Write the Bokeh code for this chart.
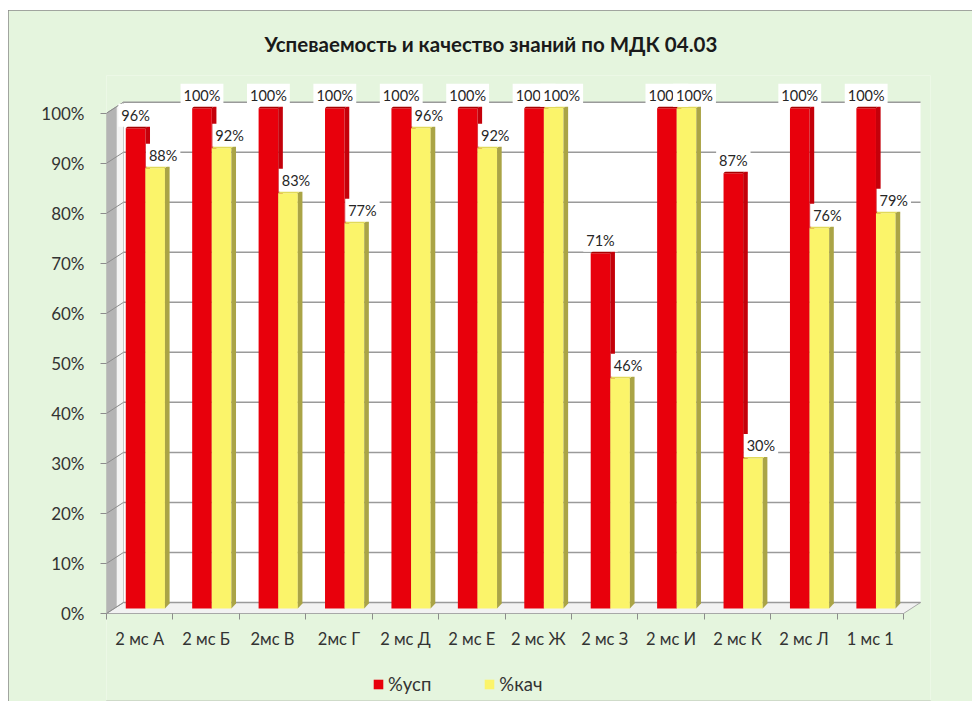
from bokeh.plotting import figure
from bokeh.models import (Range1d, FixedTicker, LinearAxis, Legend, LegendItem, Title)
from bokeh.core.properties import value
from bokeh.embed import file_html
from bokeh.resources import INLINE

# ---------------- data ----------------
categories = ["2 мс А", "2 мс Б", "2мс В", "2мс Г", "2 мс Д", "2 мс Е",
              "2 мс Ж", "2 мс З", "2 мс И", "2 мс К", "2 мс Л", "1 мс 1"]
usp = [96, 100, 100, 100, 100, 100, 100, 71, 100, 87, 100, 100]   # %усп
kach = [88, 92, 83, 77, 96, 92, 100, 46, 100, 30, 76, 79]          # %кач
y_ticks = [0, 10, 20, 30, 40, 50, 60, 70, 80, 90, 100]
series_names = ["%усп", "%кач"]
title_text = "Успеваемость и качество знаний по МДК 04.03"

# ---------------- style / geometry ----------------
BG = "#e5f5de"
RED, RED_SIDE, RED_TOP = "#e8000c", "#c4000a", "#a80000"
YEL, YEL_SIDE, YEL_TOP = "#fbf46a", "#aaa446", "#e2da58"
FONT = "Lato"

n = len(categories)
BACK_DX, BACK_DY = 0.256, 2.2      # depth of walls (x in category units, y in %)
PLANE_DY = 1.0                     # bars stand a bit behind the front edge
BAR_W = 0.295
RED_OFF = 0.29
DEPTH_DX, DEPTH_DY = 0.07, 1.0     # bar depth

W, H = 964, 691
frame_left, frame_right = 98, 922       # figure px
frame_top, frame_bottom = 65, H - 1
zero_px = 603                           # figure px of the 0 % front edge
px_per_cat = 66.42
px_per_pct = 5.003

x_end = (frame_right - frame_left) / px_per_cat
y_start = -(frame_bottom - zero_px) / px_per_pct
y_end = (zero_px - frame_top) / px_per_pct

p = figure(width=W, height=H, output_backend="svg", toolbar_location=None,
           x_range=Range1d(0, x_end), y_range=Range1d(y_start, y_end),
           min_border_left=frame_left, min_border_right=W - frame_right,
           min_border_top=frame_top, min_border_bottom=H - frame_bottom,
           x_axis_type=None, y_axis_type=None)
p.background_fill_color = BG
p.border_fill_color = BG
p.outline_line_color = None
p.xgrid.visible = False
p.ygrid.visible = False
p.styles = {"outline": "1px solid #8a8a8a", "outline-offset": "-1px",
            "margin-left": "8px", "margin-top": "10px"}

# title
t = Title(text=title_text, align="left", offset=158, standoff=39,
          text_line_height=0.75,
          text_font=FONT, text_font_size="20.5px", text_font_style="bold",
          text_color="#1a1a1a")
p.add_layout(t, "above")

# ---------------- walls and floor ----------------
p.quad(left=[BACK_DX], right=[n + BACK_DX], bottom=[BACK_DY], top=[100 + BACK_DY],
       fill_color="white", line_color=None)
p.patch(x=[0, BACK_DX, BACK_DX, 0], y=[0, BACK_DY, 100 + BACK_DY, 100],
        fill_color="#b4b4b4", line_color="#a0a0a0", line_width=1)
p.patch(x=[BACK_DX * 0.6, BACK_DX, BACK_DX, BACK_DX * 0.6],
        y=[BACK_DY * 0.6, BACK_DY, 100 + BACK_DY, 100 + BACK_DY * 0.6],
        fill_color="#f4f4f4", line_color=None)
p.patch(x=[0, n, n + BACK_DX, BACK_DX], y=[0, 0, BACK_DY, BACK_DY],
        fill_color="#f2f2f2", line_color="#a8a8a8", line_width=1)
gx0 = [BACK_DX] * len(y_ticks)
gx1 = [n + BACK_DX] * len(y_ticks)
gy = [v + BACK_DY for v in y_ticks]
p.segment(x0=gx0, y0=gy, x1=gx1, y1=gy, line_color="#9a9a9a", line_width=1.5)
p.segment(x0=[0] * len(y_ticks), y0=y_ticks, x1=gx0, y1=gy,
          line_color="#8c8c8c", line_width=1)

# ---------------- 3D bars ----------------
def bars(values, off, front, side, top):
    lefts = [i + off for i in range(n)]
    rights = [l + BAR_W for l in lefts]
    tops = [v + PLANE_DY for v in values]
    r = p.quad(left=lefts, right=rights, bottom=[PLANE_DY] * n, top=tops,
               fill_color=front, line_color=None)
    sx = [[rr, rr + DEPTH_DX, rr + DEPTH_DX, rr] for rr in rights]
    sy = [[PLANE_DY, PLANE_DY + DEPTH_DY, tt + DEPTH_DY, tt] for tt in tops]
    p.patches(xs=sx, ys=sy, fill_color=side, line_color=None)
    tx = [[l, rr, rr + DEPTH_DX, l + DEPTH_DX] for l, rr in zip(lefts, rights)]
    ty = [[tt, tt, tt + DEPTH_DY, tt + DEPTH_DY] for tt in tops]
    p.patches(xs=tx, ys=ty, fill_color=top, line_color=None)
    return r

r_red = bars(usp, RED_OFF, RED, RED_SIDE, RED_TOP)
r_yel = bars(kach, RED_OFF + BAR_W, YEL, YEL_SIDE, YEL_TOP)

# ---------------- data labels ----------------
def labels(values, xoff, px_shift):
    xs = [i + xoff for i in range(n)]
    ys = [v + PLANE_DY for v in values]
    p.text(x=xs, y=ys, text=[f"{v}%" for v in values],
           x_offset=px_shift, y_offset=-13,
           text_align="center", text_baseline="middle",
           text_font=value(FONT), text_font_size="14.5px", text_color="#262626",
           background_fill_color="white", padding=3)

labels(usp, RED_OFF + BAR_W / 2, 0)
labels(kach, RED_OFF + BAR_W * 1.5, 8)

# ---------------- axes ----------------
yaxis = LinearAxis(ticker=FixedTicker(ticks=y_ticks),
                   major_label_overrides={v: f"{v}%" for v in y_ticks})
yaxis.axis_line_color = None
yaxis.major_tick_in = 0
yaxis.major_tick_out = 6
yaxis.major_tick_line_color = "#8c8c8c"
yaxis.minor_tick_line_color = None
yaxis.major_label_standoff = 16
yaxis.major_label_text_font = FONT
yaxis.major_label_text_font_size = "17px"
yaxis.major_label_text_color = "#333333"
p.add_layout(yaxis, "left")

# category axis: sits at the frame bottom, labels pulled up under the floor
centers = [i + 0.5 for i in range(n)]
xaxis = LinearAxis(ticker=FixedTicker(ticks=centers, minor_ticks=list(range(n + 1))),
                   major_label_overrides={c: lab for c, lab in zip(centers, categories)})
xaxis.axis_line_color = None
xaxis.major_tick_line_color = None
xaxis.major_tick_in = 0
xaxis.major_tick_out = 0
xaxis.minor_tick_in = frame_bottom - zero_px
xaxis.minor_tick_out = -(frame_bottom - zero_px - 6)
xaxis.minor_tick_line_color = "#8c8c8c"
xaxis.major_label_standoff = -72
xaxis.major_label_text_font = FONT
xaxis.major_label_text_font_size = "16.5px"
xaxis.major_label_text_color = "#333333"
p.add_layout(xaxis, "below")

# ---------------- legend (inside the frame, under the category labels) ----------------
legend = Legend(items=[LegendItem(label=series_names[0], renderers=[r_red]),
                       LegendItem(label=series_names[1], renderers=[r_yel])],
                orientation="horizontal", location=(266, 5),
                background_fill_alpha=0, border_line_color=None,
                glyph_width=12, glyph_height=12, label_standoff=4, spacing=52,
                padding=0, margin=0, label_height=20,
                label_text_font=FONT, label_text_font_size="18.5px",
                label_text_color="#333333")
p.add_layout(legend, "center")

open("out.html", "w").write(file_html(p, INLINE))
